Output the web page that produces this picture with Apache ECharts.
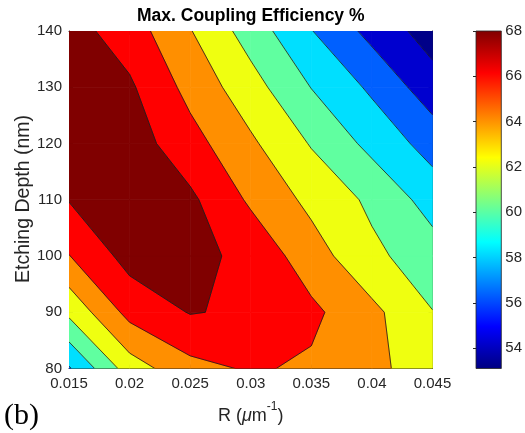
<!DOCTYPE html>
<html>
<head>
<meta charset="utf-8">
<script src="https://cdn.jsdelivr.net/npm/echarts@6/dist/echarts.min.js"></script>
<style>html,body{margin:0;padding:0;background:#fff;}#chart{width:525px;height:433px;}</style>
</head>
<body>
<div id="chart"></div>
<script>
// ---- data ----
const R_VALUES = [0.015, 0.02, 0.025, 0.03, 0.035, 0.04, 0.045];
const DEPTHS = [80, 90, 100, 110, 120, 130, 140];
// Max coupling efficiency (%) per etching depth row, columns follow R_VALUES
const eff80  = [57.8, 63.0, 65.39, 66.21, 65.71, 64.5, 62.94];
const eff90  = [62.45, 66.65, 68.1, 67.7, 66.43, 64.5, 62.05];
const eff100 = [65.94, 68.73, 68.6, 67.45, 64.9, 62.45, 60.9];
const eff110 = [68.09, 69.0, 68.39, 65.68, 63.49, 61.6, 59.17];
const eff120 = [68.9, 69.0, 66.75, 64.33, 61.85, 59.42, 57.17];
const eff130 = [69.0, 68.3, 65.37, 62.8, 59.95, 57.64, 54.87];
const eff140 = [68.79, 67.0, 64.1, 61.1, 58.07, 55.37, 53.06];
const LEVELS = [54, 56, 58, 60, 62, 64, 66, 68];
const X_TICKS = [0.015, 0.02, 0.025, 0.03, 0.035, 0.04, 0.045];
const Y_TICKS = [80, 90, 100, 110, 120, 130, 140];
const CB_TICKS = [54, 56, 58, 60, 62, 64, 66, 68];
const CB_MIN = 53.1, CB_MAX = 68;

// ---- styles ----
const BAND_COLORS = ['#000088', '#0000cf', '#0060ff', '#00dfff', '#60ffa0', '#efff10', '#ff8f00', '#ff0000', '#800000'];
const FONT = 'Liberation Sans';
const AX = '#262626';

const GRID = [eff80, eff90, eff100, eff110, eff120, eff130, eff140];

const cells = [];
for (let j = 0; j < DEPTHS.length - 1; j++) {
  for (let i = 0; i < R_VALUES.length - 1; i++) {
    cells.push([(R_VALUES[i] + R_VALUES[i + 1]) / 2, (DEPTHS[j] + DEPTHS[j + 1]) / 2, i, j]);
  }
}

function cellCorners(i, j) {
  return [[i, j], [i + 1, j], [i + 1, j + 1], [i, j + 1]].map(function (c) {
    return { x: R_VALUES[c[0]], y: DEPTHS[c[1]], v: GRID[c[1]][c[0]] };
  });
}
function lerp(a, b, L) {
  const t = (L - a.v) / (b.v - a.v);
  return { x: a.x + t * (b.x - a.x), y: a.y + t * (b.y - a.y), v: L };
}
function clip(poly, L, keepAbove) {
  const out = [];
  const n = poly.length;
  for (let k = 0; k < n; k++) {
    const a = poly[k], b = poly[(k + 1) % n];
    const ina = keepAbove ? a.v >= L : a.v < L;
    const inb = keepAbove ? b.v >= L : b.v < L;
    if (ina) out.push(a);
    if (ina !== inb) out.push(lerp(a, b, L));
  }
  return out;
}

function renderFill(params, api) {
  const i = api.value(2), j = api.value(3);
  const corners = cellCorners(i, j);
  const children = [];
  for (let k = 0; k <= LEVELS.length; k++) {
    let poly = corners;
    if (k > 0) poly = clip(poly, LEVELS[k - 1], true);
    if (k < LEVELS.length && poly.length) poly = clip(poly, LEVELS[k], false);
    if (poly.length >= 3) {
      children.push({
        type: 'polygon',
        shape: { points: poly.map(function (p) { return api.coord([p.x, p.y]); }) },
        style: { fill: BAND_COLORS[k], stroke: BAND_COLORS[k], lineWidth: 0.7 }
      });
    }
  }
  return { type: 'group', children: children };
}

function renderLines(params, api) {
  const i = api.value(2), j = api.value(3);
  const c = cellCorners(i, j);
  const children = [];
  LEVELS.forEach(function (L) {
    const pts = [];
    for (let k = 0; k < 4; k++) {
      const a = c[k], b = c[(k + 1) % 4];
      if ((a.v - L) * (b.v - L) < 0) pts.push(lerp(a, b, L));
    }
    const segs = [];
    if (pts.length === 2) segs.push([pts[0], pts[1]]);
    else if (pts.length === 4) { segs.push([pts[0], pts[1]]); segs.push([pts[2], pts[3]]); }
    segs.forEach(function (s) {
      const p1 = api.coord([s[0].x, s[0].y]), p2 = api.coord([s[1].x, s[1].y]);
      children.push({ type: 'line', shape: { x1: p1[0], y1: p1[1], x2: p2[0], y2: p2[1] },
        style: { stroke: '#1a1a1a', lineWidth: 0.8 } });
    });
  });
  return { type: 'group', children: children };
}

function renderBar(params, api) {
  const p0 = api.coord([0, CB_MIN]);
  const p1 = api.coord([1, CB_MAX]);
  return {
    type: 'rect',
    shape: { x: p0[0], y: p1[1], width: p1[0] - p0[0], height: p0[1] - p1[1] },
    style: {
      fill: new echarts.graphic.LinearGradient(0, 1, 0, 0, [
        { offset: 0, color: '#000080' }, { offset: 0.125, color: '#0000ff' },
        { offset: 0.375, color: '#00ffff' }, { offset: 0.625, color: '#ffff00' },
        { offset: 0.875, color: '#ff0000' }, { offset: 1, color: '#800000' }
      ]),
      stroke: AX, lineWidth: 0.8
    }
  };
}

const fmt = function (v) { return String(+(+v).toFixed(4)); };
const tickLabel = { fontFamily: FONT, fontSize: 15, color: AX };

const chart = echarts.init(document.getElementById('chart'), null, { renderer: 'canvas' });
chart.setOption({
  animation: false,
  backgroundColor: '#fff',
  grid: [
    { left: 69, top: 31, width: 363.5, height: 337.5, containLabel: false },
    { left: 476, top: 31, width: 27, height: 337.5, containLabel: false }
  ],
  xAxis: [
    { gridIndex: 0, type: 'value', position: 'bottom', min: 0.015, max: 0.045, interval: 0.005,
      axisLine: { lineStyle: { color: AX, width: 1 } },
      axisTick: { inside: true, length: 4, lineStyle: { color: AX }, customValues: X_TICKS },
      axisLabel: Object.assign({ margin: 8, formatter: fmt, customValues: X_TICKS }, tickLabel),
      splitLine: { show: false } },
    { gridIndex: 0, type: 'value', position: 'top', min: 0.015, max: 0.045, interval: 0.005,
      axisLine: { lineStyle: { color: AX, width: 1 } },
      axisTick: { inside: true, length: 4, lineStyle: { color: AX }, customValues: X_TICKS },
      axisLabel: { show: false }, splitLine: { show: false } },
    { gridIndex: 1, type: 'value', min: 0, max: 1, show: false }
  ],
  yAxis: [
    { gridIndex: 0, type: 'value', position: 'left', min: 80, max: 140, interval: 10,
      axisLine: { lineStyle: { color: AX, width: 1 } },
      axisTick: { inside: true, length: 4, lineStyle: { color: AX }, customValues: Y_TICKS },
      axisLabel: Object.assign({ margin: 7, customValues: Y_TICKS }, tickLabel),
      splitLine: { show: false } },
    { gridIndex: 0, type: 'value', position: 'right', min: 80, max: 140, interval: 10,
      axisLine: { lineStyle: { color: AX, width: 1 } },
      axisTick: { inside: true, length: 4, lineStyle: { color: AX }, customValues: Y_TICKS },
      axisLabel: { show: false }, splitLine: { show: false } },
    { gridIndex: 1, type: 'value', position: 'right', min: CB_MIN, max: CB_MAX,
      axisLine: { show: false },
      axisTick: { inside: true, length: 3, lineStyle: { color: AX }, customValues: CB_TICKS },
      axisLabel: Object.assign({ margin: 4, customValues: CB_TICKS }, tickLabel),
      splitLine: { show: false } }
  ],
  series: [
    { type: 'custom', xAxisIndex: 0, yAxisIndex: 0, data: cells, renderItem: renderFill,
      encode: { x: 0, y: 1 }, silent: true, z: 2, clip: true },
    { type: 'custom', xAxisIndex: 0, yAxisIndex: 0, data: cells, renderItem: renderLines,
      encode: { x: 0, y: 1 }, silent: true, z: 3, clip: true },
    { type: 'custom', xAxisIndex: 2, yAxisIndex: 2, data: [[0.5, (CB_MIN + CB_MAX) / 2]], renderItem: renderBar,
      encode: { x: 0, y: 1 }, silent: true, z: 2 }
  ],
  graphic: [
    { type: 'text', x: 250.75, y: 16, z: 10,
      style: { text: 'Max. Coupling Efficiency %', fontFamily: FONT, fontSize: 17.5, fontWeight: 'bold',
        fill: '#000', align: 'center', verticalAlign: 'middle' } },
    { type: 'text', x: 24, y: 199, rotation: Math.PI / 2, z: 10,
      style: { text: 'Etching Depth (nm)', fontFamily: FONT, fontSize: 19.5, fill: AX,
        align: 'center', verticalAlign: 'middle' } },
    { type: 'text', x: 250.75, y: 413, z: 10,
      style: { text: '{a|R (}{mu|\u03bc}{a|m}{sup|-1}{a|)}', align: 'center', verticalAlign: 'middle',
        rich: {
          a: { fontFamily: FONT, fontSize: 18, fill: AX, lineHeight: 24, verticalAlign: 'bottom' },
          mu: { fontFamily: FONT, fontSize: 18, fontStyle: 'italic', fill: AX, lineHeight: 24, verticalAlign: 'bottom' },
          sup: { fontFamily: FONT, fontSize: 12, fill: AX, lineHeight: 14, verticalAlign: 'top' }
        } } },
    { type: 'text', x: 4, y: 416, z: 10,
      style: { text: '(b)', fontFamily: 'Liberation Serif', fontSize: 30, fill: '#000',
        align: 'left', verticalAlign: 'middle' } }
  ]
});
</script>
</body>
</html>
